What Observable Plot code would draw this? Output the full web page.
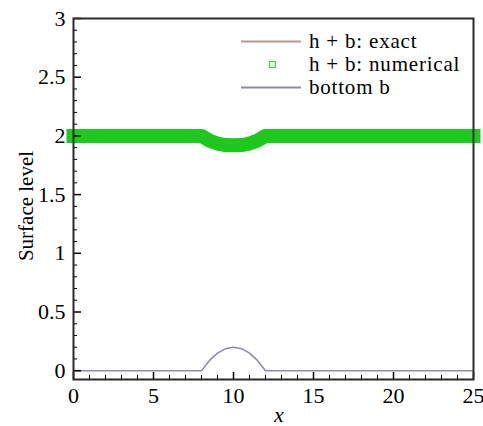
<!DOCTYPE html>
<html><head><meta charset="utf-8">
<script src="https://cdn.jsdelivr.net/npm/d3@7"></script>
<script src="https://cdn.jsdelivr.net/npm/@observablehq/plot@0.6"></script>
<style>
body{margin:0;background:#fff}
#wrap{position:relative;width:483px;height:426px;font-family:'Liberation Serif','Times New Roman',Times,Tinos,'Nimbus Roman',FreeSerif,'Noto Serif','DejaVu Serif',serif;color:#000}
#wrap > svg{position:absolute;left:0;top:0}
.lab{position:absolute;white-space:nowrap}
#legend{position:absolute;left:239px;top:30px;font-size:21px;line-height:23px;letter-spacing:0.8px}
#legend .row{display:flex;align-items:center;height:23px}
#legend .sw{display:block;width:64px;height:23px;margin-right:6px;flex:none}
</style>
</head><body>
<div id="wrap"></div>
<script>
// x positions
const xs = [0, 8, 8.5, 9, 9.5, 10, 10.5, 11, 11.5, 12, 25];
// bottom b
const bottomB = [0, 0, 0.0875, 0.15, 0.1875, 0.2, 0.1875, 0.15, 0.0875, 0, 0];
// h + b exact
const surfaceExact = [2, 2, 1.96, 1.935, 1.922, 1.92, 1.922, 1.935, 1.96, 2, 2];
// h + b numerical
const surfaceNum = [2, 2, 1.96, 1.935, 1.922, 1.92, 1.922, 1.935, 1.96, 2, 2];
// ticks
const xMajor = [0, 5, 10, 15, 20, 25];
const xMinor = [1, 2, 3, 4, 6, 7, 8, 9, 11, 12, 13, 14, 16, 17, 18, 19, 21, 22, 23, 24];
const yMajor = [0, 0.5, 1, 1.5, 2, 2.5, 3];
const yMinor = [0.1, 0.2, 0.3, 0.4, 0.6, 0.7, 0.8, 0.9, 1.1, 1.2, 1.3, 1.4, 1.6, 1.7, 1.8, 1.9, 2.1, 2.2, 2.3, 2.4, 2.6, 2.7, 2.8, 2.9];

const colExact = "#c49494", colNum = "#1ec81e", colBottom = "#8c8ca4";
const FONT = "'Liberation Serif','Times New Roman',Times,Tinos,'Nimbus Roman',FreeSerif,'Noto Serif','DejaVu Serif',serif";

const bData = xs.map((x, i) => ({x, y: bottomB[i]}));
const eData = xs.map((x, i) => ({x, y: surfaceExact[i]}));
const nData = xs.map((x, i) => ({x, y: surfaceNum[i]}));

const chart = Plot.plot({
  width: 483, height: 426,
  marginLeft: 73, marginRight: 10, marginTop: 18, marginBottom: 47,
  x: {domain: [0, 25]},
  y: {domain: [-0.075, 3]},
  style: {fontFamily: FONT, fontSize: "22px", color: "#000", background: "transparent", overflow: "visible"},
  marks: [
    Plot.line(bData, {x: "x", y: "y", stroke: colBottom, strokeWidth: 1.5}),
    Plot.line(eData, {x: "x", y: "y", stroke: colExact, strokeWidth: 1.5}),
    Plot.line(nData, {x: "x", y: "y", stroke: colNum, strokeWidth: 14, strokeLinecap: "square", strokeLinejoin: "round"}),
    Plot.axisX({ticks: xMinor, tickSize: 4, dy: -4, tickFormat: () => "", label: null, strokeWidth: 1}),
    Plot.axisX({ticks: xMajor, tickSize: 7, dy: -7, tickFormat: () => "", label: null, strokeWidth: 1.5}),
    Plot.axisX({ticks: xMajor, tickSize: 0, tickPadding: 8, tickFormat: d => String(d), label: null}),
    Plot.axisY({ticks: yMinor, tickSize: 4, dx: 4, tickFormat: () => "", label: null, strokeWidth: 1}),
    Plot.axisY({ticks: yMajor, tickSize: 8, dx: 8, tickFormat: () => "", label: null, strokeWidth: 1.5}),
    Plot.axisY({ticks: yMajor, tickSize: 0, tickPadding: 8, tickFormat: d => String(d), label: null}),
    Plot.frame({stroke: "#2a2a2a", strokeWidth: 2})
  ]
});
const wrap = document.getElementById("wrap");
wrap.appendChild(chart);

const xl = document.createElement("div");
xl.className = "lab";
xl.style.cssText = "left:274px;top:402px;font-size:22px;font-style:italic";
xl.textContent = "x";
wrap.appendChild(xl);

const yl = document.createElement("div");
yl.className = "lab";
yl.style.cssText = "left:26px;top:206px;font-size:21px;transform:translate(-50%,-50%) rotate(-90deg)";
yl.textContent = "Surface level";
wrap.appendChild(yl);

const legendItems = [
  {label: "h + b: exact", type: "line", color: colExact},
  {label: "h + b: numerical", type: "square", color: colNum},
  {label: "bottom b", type: "line", color: colBottom}
];
const lg = document.createElement("div");
lg.id = "legend";
lg.innerHTML = legendItems.map(d => {
  const sw = d.type === "line"
    ? `<svg class="sw" width="64" height="23"><line x1="2" x2="62" y1="11.5" y2="11.5" stroke="${d.color}" stroke-width="2"/></svg>`
    : `<svg class="sw" width="64" height="23"><rect x="30.5" y="8.5" width="6" height="6" fill="#eef8ee" stroke="${d.color}" stroke-width="1.2" opacity="0.8"/></svg>`;
  return `<div class="row">${sw}<span>${d.label}</span></div>`;
}).join("");
wrap.appendChild(lg);
</script>
</body></html>
